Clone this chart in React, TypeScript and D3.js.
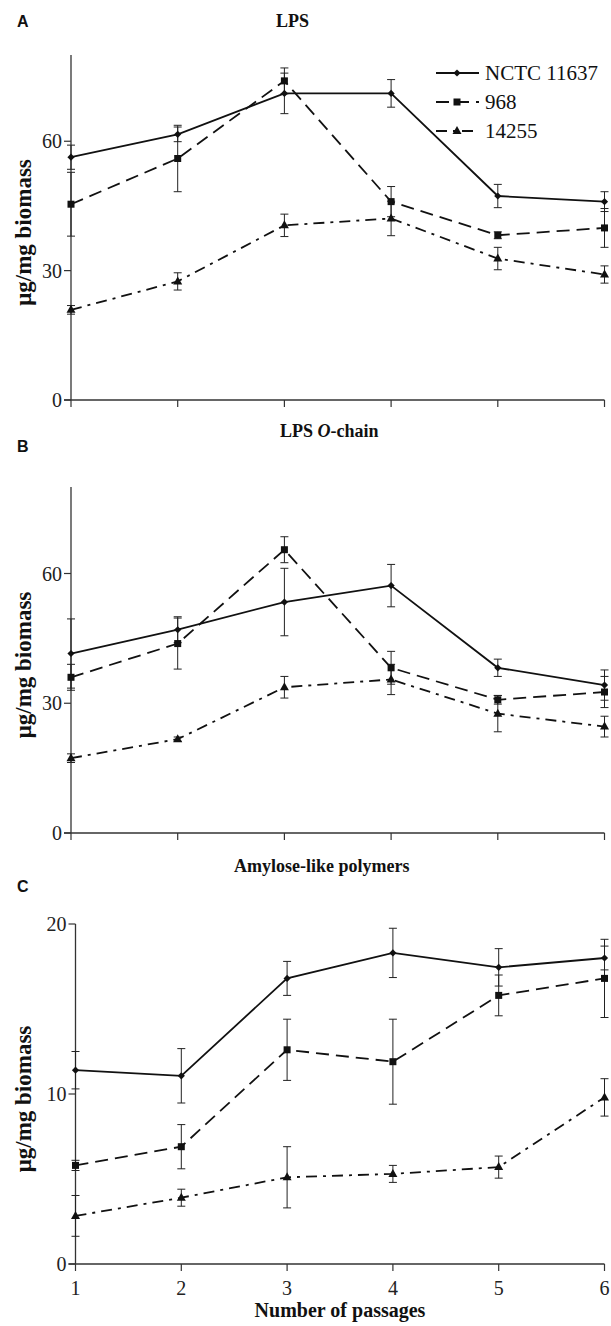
import * as d3 from "d3";

const passages = [1, 2, 3, 4, 5, 6];
const seriesNames = ["NCTC 11637", "968", "14255"];

// panel A - LPS
const lpsNctc = [56.3, 61.6, 71.1, 71.1, 47.3, 46.0];
const lpsNctcErr = [2.8, 1.7, 4.7, 3.2, 2.7, 2.3];
const lps968 = [45.4, 56.0, 74.0, 46.0, 38.2, 39.9];
const lps968Err = [7.4, 7.7, 3.0, 3.5, 0.8, 4.5];
const lps14255 = [20.9, 27.5, 40.5, 42.1, 32.8, 29.1];
const lps14255Err = [1.0, 2.0, 2.6, 4.0, 2.6, 2.0];

// panel B - LPS O-chain
const oNctc = [41.5, 47.0, 53.4, 57.2, 38.2, 34.2];
const oNctcErr = [8.0, 3.0, 7.8, 4.9, 2.0, 3.5];
const o968 = [36.0, 43.8, 65.5, 38.2, 30.8, 32.6];
const o968Err = [3.0, 5.9, 3.0, 3.8, 1.0, 3.6];
const o14255 = [17.3, 21.7, 33.7, 35.5, 27.6, 24.6];
const o14255Err = [1.0, 0.5, 2.5, 3.5, 4.2, 2.4];

// panel C - amylose-like polymers
const amNctc = [11.4, 11.07, 16.8, 18.3, 17.45, 18.0];
const amNctcErr = [1.1, 1.6, 1.0, 1.45, 1.1, 0.7];
const am968 = [5.8, 6.9, 12.6, 11.9, 15.8, 16.8];
const am968Err = [0.3, 1.3, 1.8, 2.5, 1.2, 2.3];
const am14255 = [2.83, 3.9, 5.1, 5.3, 5.7, 9.8];
const am14255Err = [1.2, 0.5, 1.8, 0.5, 0.65, 1.1];

const serif = "Liberation Serif, Times New Roman, serif";
const sans = "Liberation Sans, Arial, sans-serif";
const dashes = [null, "13,7", "11,6,3,6"];

const panels = [
  {
    letter: "A", title: "LPS", titleX: 276, titleY: 27, letterY: 27,
    top: 55, bottom: 400, left: 71, max: 80, ticks: [0, 30, 60],
    series: [[lpsNctc, lpsNctcErr], [lps968, lps968Err], [lps14255, lps14255Err]],
    legend: true, xLabels: false,
  },
  {
    letter: "B", title: "LPS O-chain", titleX: 280, titleY: 437, letterY: 452,
    top: 487, bottom: 833, left: 71, max: 80, ticks: [0, 30, 60],
    series: [[oNctc, oNctcErr], [o968, o968Err], [o14255, o14255Err]],
    legend: false, xLabels: false,
  },
  {
    letter: "C", title: "Amylose-like polymers", titleX: 234, titleY: 872, letterY: 892,
    top: 924, bottom: 1264, left: 75.5, max: 20, ticks: [0, 10, 20],
    series: [[amNctc, amNctcErr], [am968, am968Err], [am14255, am14255Err]],
    legend: false, xLabels: true,
  },
];

function Marker({ kind, x, y }: { kind: number; x: number; y: number }) {
  if (kind === 0) {
    const s = 3.6;
    return <path d={`M${x},${y - s}L${x + s},${y}L${x},${y + s}L${x - s},${y}Z`} fill="#111" />;
  }
  if (kind === 1) {
    return <rect x={x - 3.5} y={y - 3.5} width={7} height={7} fill="#111" />;
  }
  return <path d={`M${x},${y - 5}L${x + 4.5},${y + 3}L${x - 4.5},${y + 3}Z`} fill="#111" />;
}

function Panel({ p }: { p: (typeof panels)[number] }) {
  const x = d3.scaleLinear().domain([1, 6]).range([p.left, 604.5]);
  const y = d3.scaleLinear().domain([0, p.max]).range([p.bottom, p.top]);
  const line = d3.line<number>().x((_, i) => x(passages[i])).y((d) => y(d));
  const mid = (p.top + p.bottom) / 2;

  return (
    <g>
      <text x={17} y={p.letterY} fontFamily={sans} fontWeight="bold" fontSize={16} fill="#111">{p.letter}</text>
      <text x={p.titleX} y={p.titleY} fontFamily={serif} fontWeight="bold" fontSize={18} fill="#111">
        {p.title === "LPS O-chain" ? <>LPS <tspan fontStyle="italic">O</tspan>-chain</> : p.title}
      </text>

      {/* axes */}
      <line x1={p.left} x2={p.left} y1={p.top} y2={p.bottom} stroke="#333" strokeWidth={1.3} />
      <line x1={p.left - 7} x2={604.5} y1={p.bottom} y2={p.bottom} stroke="#333" strokeWidth={1.5} />
      {p.ticks.map((t) => (
        <g key={t}>
          <line x1={p.left - 7} x2={p.left} y1={y(t)} y2={y(t)} stroke="#333" strokeWidth={1.2} />
          <text x={p.left - 9} y={y(t) + 7} textAnchor="end" fontFamily={serif} fontSize={20} fill="#222">{t}</text>
        </g>
      ))}
      {passages.map((d) => (
        <g key={d}>
          <line x1={x(d)} x2={x(d)} y1={p.bottom} y2={p.bottom + 7} stroke="#333" strokeWidth={1.2} />
          {p.xLabels && (
            <text x={x(d)} y={p.bottom + 31} textAnchor="middle" fontFamily={serif} fontSize={20} fill="#222">{d}</text>
          )}
        </g>
      ))}
      <text
        transform={`translate(31,${mid + 5}) rotate(-90)`}
        textAnchor="middle" fontFamily={serif} fontWeight="bold" fontSize={23} fill="#111"
      >μg/mg biomass</text>

      {/* error bars */}
      {p.series.map(([vals, errs], si) =>
        vals.map((v, i) => (
          <g key={`e${si}-${i}`} stroke="#222" strokeWidth={1}>
            <line x1={x(passages[i])} x2={x(passages[i])} y1={y(v - errs[i])} y2={y(v + errs[i])} />
            <line x1={x(passages[i]) - 4} x2={x(passages[i]) + 4} y1={y(v - errs[i])} y2={y(v - errs[i])} />
            <line x1={x(passages[i]) - 4} x2={x(passages[i]) + 4} y1={y(v + errs[i])} y2={y(v + errs[i])} />
          </g>
        ))
      )}

      {/* lines + markers */}
      {p.series.map(([vals], si) => (
        <g key={`s${si}`}>
          <path d={line(vals) || ""} fill="none" stroke="#111" strokeWidth={1.8}
            strokeDasharray={dashes[si] || undefined} />
          {vals.map((v, i) => <Marker key={i} kind={si} x={x(passages[i])} y={y(v)} />)}
        </g>
      ))}

      {p.legend && seriesNames.map((name, si) => {
        const ly = 73 + si * 29;
        return (
          <g key={name}>
            <line x1={436} x2={479} y1={ly} y2={ly} stroke="#111" strokeWidth={1.8}
              strokeDasharray={dashes[si] || undefined} />
            <Marker kind={si} x={457} y={ly} />
            <text x={485} y={ly + 7} fontFamily={serif} fontSize={21} fill="#111">{name}</text>
          </g>
        );
      })}
    </g>
  );
}

export default function App() {
  return (
    <svg width={611} height={1326} style={{ position: "absolute", left: 0, top: 0, background: "#fff" }}>
      <rect width={611} height={1326} fill="#fff" />
      {panels.map((p) => <Panel key={p.letter} p={p} />)}
      <text x={340} y={1317} textAnchor="middle" fontFamily={serif} fontWeight="bold" fontSize={20} fill="#111">
        Number of passages
      </text>
    </svg>
  );
}
